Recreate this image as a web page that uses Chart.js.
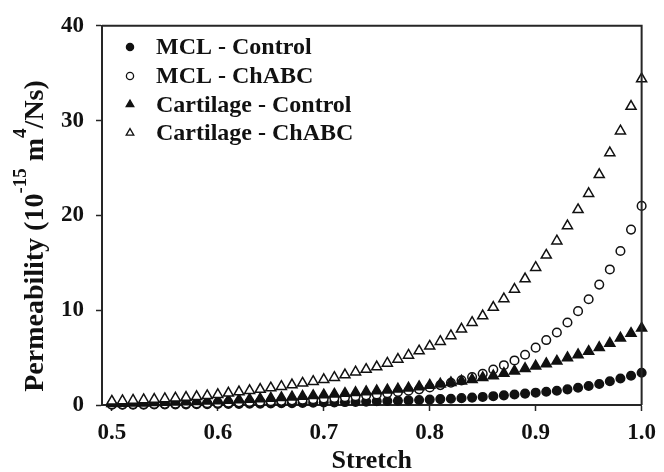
<!DOCTYPE html>
<html><head><meta charset="utf-8">
<script src="https://cdn.jsdelivr.net/npm/chart.js@4.4.0/dist/chart.umd.min.js"></script>
<style>html,body{margin:0;padding:0;background:#fff;overflow:hidden}#wrap{width:664px;height:472px}</style>
</head><body><div id="wrap"><canvas id="c" width="664" height="472"></canvas></div>
<script>
// ---- data ----
const stretch = [0.50,0.51,0.52,0.53,0.54,0.55,0.56,0.57,0.58,0.59,
  0.60,0.61,0.62,0.63,0.64,0.65,0.66,0.67,0.68,0.69,
  0.70,0.71,0.72,0.73,0.74,0.75,0.76,0.77,0.78,0.79,
  0.80,0.81,0.82,0.83,0.84,0.85,0.86,0.87,0.88,0.89,
  0.90,0.91,0.92,0.93,0.94,0.95,0.96,0.97,0.98,0.99,1.00];
const mclControl = [0.03,0.03,0.04,0.04,0.05,0.05,0.06,0.07,0.08,0.09,
  0.10,0.11,0.12,0.13,0.15,0.16,0.18,0.20,0.22,0.24,
  0.26,0.28,0.31,0.33,0.36,0.39,0.42,0.45,0.49,0.53,
  0.57,0.62,0.66,0.72,0.78,0.85,0.93,1.02,1.11,1.20,
  1.30,1.40,1.50,1.65,1.82,2.00,2.22,2.50,2.80,3.08,3.40];
const mclChABC = [0.06,0.07,0.08,0.09,0.10,0.12,0.13,0.15,0.17,0.19,
  0.22,0.25,0.28,0.31,0.35,0.39,0.44,0.49,0.55,0.61,
  0.68,0.75,0.83,0.92,1.02,1.12,1.24,1.37,1.50,1.65,
  1.85,2.10,2.35,2.60,2.95,3.30,3.75,4.20,4.70,5.30,
  6.05,6.85,7.65,8.70,9.90,11.15,12.70,14.30,16.25,18.50,21.00];
const cartControl = [0.15,0.17,0.19,0.21,0.24,0.27,0.30,0.33,0.37,0.41,
  0.45,0.50,0.55,0.60,0.65,0.71,0.77,0.84,0.91,0.98,
  1.06,1.14,1.22,1.31,1.40,1.49,1.58,1.68,1.78,1.92,
  2.08,2.20,2.35,2.52,2.68,2.88,3.07,3.33,3.58,3.84,
  4.10,4.35,4.62,4.98,5.30,5.65,6.05,6.50,7.05,7.55,8.10];
const cartChABC = [0.40,0.45,0.50,0.55,0.60,0.66,0.73,0.80,0.88,0.98,
  1.10,1.25,1.38,1.52,1.65,1.80,1.95,2.12,2.30,2.48,
  2.68,2.90,3.18,3.48,3.75,4.02,4.40,4.82,5.25,5.70,
  6.20,6.70,7.30,8.00,8.70,9.40,10.30,11.20,12.20,13.30,
  14.50,15.80,17.30,18.90,20.60,22.30,24.30,26.60,28.90,31.50,34.40];
const seriesNames = ['MCL - Control','MCL - ChABC','Cartilage - Control','Cartilage - ChABC'];
const xTickValues = [0.5,0.6,0.7,0.8,0.9,1.0];
const xTickLabels = ['0.5','0.6','0.7','0.8','0.9','1.0'];
const yTickValues = [0,10,20,30,40];
const yTickLabels = ['0','10','20','30','40'];
const xTitle = 'Stretch';
const yTitleParts = [['Permeability (10',false],['-15',true],[' m',false],['4',true],['/Ns)',false]];

// ---- styling ----
const FONT = "'Liberation Serif','Times New Roman',serif";
const INK = '#111';
const AXIS = '#262626';
const toPts = ys => stretch.map((x,i)=>({x:x,y:ys[i]}));
const styles = [
  {pointStyle:'circle', radius:4.3, fill:INK, order:3},
  {pointStyle:'circle', radius:4.3, fill:'#fff', order:2},
  {pointStyle:'triangle', radius:5.8, fill:INK, order:1},
  {pointStyle:'triangle', radius:5.8, fill:'#fff', order:0}
];
const seriesData = [mclControl, mclChABC, cartControl, cartChABC];
const datasets = seriesData.map((ys,k)=>({
  label: seriesNames[k], data: toPts(ys), showLine:false, clip:false,
  pointStyle: styles[k].pointStyle, pointRadius: styles[k].radius, pointHoverRadius: styles[k].radius,
  pointBackgroundColor: styles[k].fill, pointBorderColor: INK, pointBorderWidth: 1.5,
  order: styles[k].order
}));

function marker(ctx, style, r, x, y, fill){
  ctx.beginPath();
  if(style==='circle'){ ctx.arc(x,y,r,0,Math.PI*2); }
  else { for(let i=0;i<3;i++){ const a=i*2*Math.PI/3; const px=x+Math.sin(a)*r, py=y-Math.cos(a)*r; i?ctx.lineTo(px,py):ctx.moveTo(px,py);} ctx.closePath(); }
  ctx.fillStyle=fill; ctx.fill(); ctx.strokeStyle=INK; ctx.lineWidth=1.3; ctx.stroke();
}

const framePlugin = { id:'frame', afterDraw(chart){
  const {ctx, chartArea:a} = chart; ctx.save(); ctx.strokeStyle=AXIS; ctx.lineWidth=2;
  ctx.beginPath(); ctx.moveTo(a.left, a.top); ctx.lineTo(a.right, a.top); ctx.lineTo(a.right, a.bottom); ctx.stroke(); ctx.restore();
}};
const legendPlugin = { id:'inlegend', afterDraw(chart){
  const {ctx, chartArea:a} = chart; ctx.save();
  const rows=[47,76,104.5,133]; const lr=[3.6,3.6,4.4,4.4];
  ctx.font = 'bold 24px '+FONT; ctx.textBaseline='middle'; ctx.textAlign='left';
  seriesNames.forEach((n,k)=>{
    marker(ctx, styles[k].pointStyle, lr[k], a.left+28, rows[k], styles[k].fill);
    ctx.fillStyle=INK; ctx.fillText(n, a.left+54, rows[k]+1);
  });
  ctx.restore();
}};
const yTitlePlugin = { id:'ytitle', afterDraw(chart){
  const ctx = chart.ctx; ctx.save();
  const big='bold 28px '+FONT, small='bold 19px '+FONT;
  let total=0; yTitleParts.forEach(([t,s])=>{ ctx.font=s?small:big; total+=ctx.measureText(t).width; });
  const centerY = 236;
  ctx.translate(43, centerY + total/2); ctx.rotate(-Math.PI/2);
  ctx.fillStyle=INK; ctx.textBaseline='alphabetic'; ctx.textAlign='left';
  let x=0; yTitleParts.forEach(([t,s])=>{ ctx.font=s?small:big; ctx.fillText(t, x, s?-17:0); x+=ctx.measureText(t).width; });
  ctx.restore();
}};

new Chart(document.getElementById('c'), {
  type:'scatter',
  data:{datasets},
  options:{
    responsive:false, animation:false, devicePixelRatio:1,
    layout:{padding:{top:22,right:17,left:0,bottom:0}},
    plugins:{legend:{display:false}, tooltip:{enabled:false}},
    scales:{
      x:{type:'linear', min:0.4907, max:1.0,
        afterBuildTicks:s=>{ s.ticks = xTickValues.map(v=>({value:v})); },
        afterFit:s=>{ s.height = 67; },
        ticks:{callback:(v,i)=>xTickLabels[i], color:INK, font:{family:FONT,size:23,weight:'bold'}, padding:8, maxRotation:0, autoSkip:false},
        grid:{display:true, drawOnChartArea:false, drawTicks:true, tickLength:6, tickWidth:1.5, tickColor:AXIS},
        border:{display:true, color:AXIS, width:2},
        title:{display:true, text:xTitle, color:INK, font:{family:FONT,size:26,weight:'bold',lineHeight:0.8}, padding:{top:0,bottom:0}}
      },
      y:{type:'linear', min:0, max:40,
        afterBuildTicks:s=>{ s.ticks = yTickValues.map(v=>({value:v})); },
        afterFit:s=>{ s.width = 102; },
        ticks:{callback:(v,i)=>yTickLabels[i], color:INK, font:{family:FONT,size:23,weight:'bold'}, padding:12, autoSkip:false},
        grid:{display:true, drawOnChartArea:false, drawTicks:true, tickLength:6, tickWidth:1.5, tickColor:AXIS},
        border:{display:true, color:AXIS, width:2},
        title:{display:false}
      }
    }
  },
  plugins:[framePlugin, legendPlugin, yTitlePlugin]
});
</script></body></html>
